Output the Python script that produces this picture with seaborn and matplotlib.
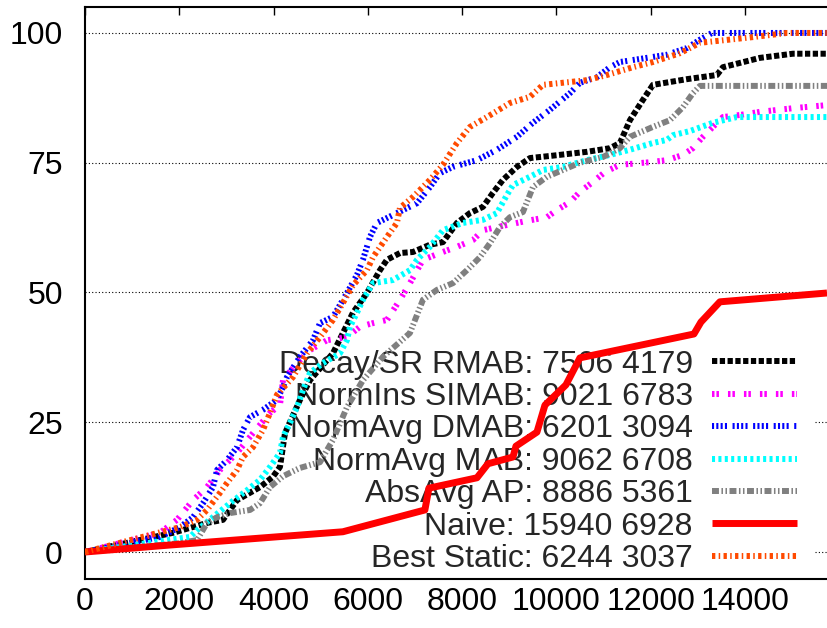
import matplotlib
matplotlib.use("Agg")
import matplotlib.pyplot as plt
from matplotlib.patches import Rectangle
import pandas as pd
import seaborn as sns

# Cumulative percentage of solved instances vs. number of evaluations
decay_x = [0, 1866, 2588, 2927, 3224, 3712, 3987, 4136, 4242, 4560, 4772, 5260, 5684, 5981,
           6257, 6405, 6681, 6957, 7317, 7593, 7890, 8166, 8442, 8654, 8866, 9163, 9439, 9863,
           10648, 11135, 11347, 11560, 11835, 12047, 12769, 13405, 13532, 14317, 15017, 15740]
decay_y = [0, 3.7, 5.6, 6.2, 10.0, 12.5, 14.5, 16.4, 22.9, 29.3, 33.1, 38.3, 46.1, 49.9,
           54.3, 56.3, 57.6, 57.8, 59.2, 59.7, 63.4, 65.3, 66.5, 69.2, 71.7, 74.2, 75.9, 76.3,
           77.1, 77.8, 78.8, 83.2, 87.1, 90.0, 91.1, 91.9, 93.4, 95.2, 96.0, 96.0]

simab_x = [0, 1591, 1951, 2291, 2588, 2863, 3224, 3563, 3924, 4136, 4200, 4497, 4772, 5133,
           5557, 5833, 6109, 6405, 6681, 6893, 7169, 7530, 7890, 8229, 8442, 8738, 9375, 9799,
           10011, 10287, 10499, 10775, 11029, 11347, 11984, 12344, 12684, 12896, 13108, 13532,
           13893, 14317, 15017, 15740]
simab_y = [0, 3.7, 6.2, 10.0, 12.5, 15.8, 19.1, 22.9, 26.8, 28.3, 33.1, 36.4, 38.9, 40.8,
           41.4, 43.4, 44.1, 44.7, 48.6, 51.8, 56.3, 57.6, 58.8, 60.1, 62.0, 62.6, 63.8, 64.5,
           65.9, 67.4, 69.4, 71.3, 73.2, 74.6, 75.1, 75.5, 76.5, 77.8, 80.0, 83.8,
           84.2, 84.8, 85.5, 86.1]

dmab_x = [0, 1591, 2015, 2291, 2503, 2715, 2800, 3012, 3224, 3351, 3500, 3775, 4072, 4200,
          4284, 4560, 4836, 4984, 5260, 5557, 5769, 5896, 6045, 6193, 6617, 7042, 7317, 7530,
          7805, 8314, 8738, 9163, 9502, 9863, 10287, 10499, 10860, 11135, 11347, 12344, 12769,
          13044, 13299, 15740]
dmab_y = [0, 2.9, 4.8, 6.7, 9.4, 12.5, 15.8, 17.7, 20.2, 23.5, 26.0, 27.4, 29.3, 31.8,
          33.7, 37.6, 40.8, 44.1, 45.3, 49.9, 53.4, 56.3, 60.7, 63.4, 65.3, 67.2, 70.3, 73.0,
          74.2, 75.5, 77.5, 80.0, 82.7, 85.2, 88.4, 90.4, 91.5, 93.4, 94.4, 95.8, 97.1,
          98.7, 100, 100]

mab_x = [0, 2227, 2376, 3075, 3436, 3712, 3924, 4136, 4200, 4348, 4497, 4624, 4772, 5048,
         5409, 5557, 5621, 5769, 5896, 6109, 6533, 6893, 7042, 7317, 7593, 8017, 8442, 8738,
         8951, 9078, 9439, 9714, 10139, 10648, 11135, 11560, 12047, 12344, 12472, 12833,
         13320, 13829, 15740]
mab_y = [0, 2.9, 4.2, 9.4, 11.9, 13.9, 16.4, 19.1, 22.2, 24.9, 27.9, 31.2, 34.5, 36.4,
         38.3, 40.8, 43.4, 46.1, 48.6, 51.8, 52.4, 54.3, 56.3, 58.8, 62.0, 63.4, 64.0, 65.3,
         68.8, 70.7, 72.3, 73.6, 74.2, 75.5, 76.5, 77.5, 78.8, 79.4, 80.3, 81.1,
         82.7, 83.8, 83.8]

ap_x = [0, 2015, 2376, 2588, 2800, 3075, 3500, 3712, 3924, 4200, 4560, 4984, 5260, 5557,
        5896, 6320, 6893, 7169, 7466, 7805, 8102, 8378, 8590, 8802, 9014, 9290, 9502, 9799,
        10499, 10987, 11347, 11560, 12047, 12408, 12684, 12896, 13044, 15740]
ap_y = [0, 1.7, 2.3, 5.6, 6.7, 7.5, 8.1, 9.4, 12.5, 14.6, 16.2, 17.3, 21.6, 27.9,
        33.1, 37.6, 42.2, 48.6, 50.5, 51.8, 54.3, 56.8, 59.5, 62.6, 64.5, 65.5, 70.3, 72.3,
        75.0, 76.1, 77.8, 80.0, 81.9, 83.2, 85.7, 88.4, 89.8, 89.8]

naive_x = [0, 1740, 5470, 7210, 7296, 8315, 8548, 9078, 9142, 9587, 9757, 10202, 10499,
           12917, 13066, 13468, 15740]
naive_y = [0, 1.3, 3.9, 8.1, 12.3, 14.3, 17.0, 18.3, 20.4, 23.1, 28.3, 32.2, 37.4,
           42.0, 44.3, 48.2, 49.9]

static_x = [0, 2015, 2376, 2588, 2863, 3012, 3224, 3351, 3563, 3775, 3924, 4072, 4412, 4709,
            4984, 5260, 5472, 5684, 5981, 6109, 6405, 6617, 6681, 6957, 7317, 7593, 7890,
            8166, 8527, 9014, 9439, 9714, 10648, 11071, 11623, 12047, 12620, 13044, 14168,
            14890, 15740]
static_y = [0, 4.8, 6.2, 8.1, 11.4, 13.3, 15.8, 18.3, 20.2, 23.5, 26.8, 30.3, 33.7, 38.3,
            41.4, 44.7, 48.0, 51.4, 54.3, 56.8, 60.7, 63.4, 66.3, 68.4, 71.7, 74.6, 78.8,
            81.9, 83.8, 86.5, 87.7, 90.0, 90.9, 91.9, 93.4, 94.4, 96.1, 98.1, 99.2,
            100, 100]

labels = ["Decay/SR RMAB: 7506 4179", "NormIns SIMAB: 9021 6783", "NormAvg DMAB: 6201 3094",
          "NormAvg MAB: 9062 6708", "AbsAvg AP: 8886 5361", "Naive: 15940 6928",
          "Best Static: 6244 3037"]
series_x = [decay_x, simab_x, dmab_x, mab_x, ap_x, naive_x, static_x]
series_y = [decay_y, simab_y, dmab_y, mab_y, ap_y, naive_y, static_y]
x_ticks = [0, 2000, 4000, 6000, 8000, 10000, 12000, 14000]
y_ticks = [0, 25, 50, 75, 100]

# line styles (dash patterns in points)
colors = ["#000000", "#ff00ff", "#0000ff", "#00ffff", "#808080", "#ff0000", "#ff4a00"]
widths = [4.3, 4.3, 4.3, 4.3, 4.3, 5.0, 4.3]
dashes = [(3.8, 1.8),
          (1.8, 1.4, 1.8, 6.5),
          (1.5, 1.6, 1.5, 1.6, 1.5, 1.6, 1.5, 4.0),
          (2.2, 2.4),
          (5.0, 1.8, 1.1, 1.8, 1.1, 1.8),
          None,
          (2.4, 2.4, 1.1, 2.4)]

frames = []
for lab, xs, ys in zip(labels, series_x, series_y):
    frames.append(pd.DataFrame({"evals": xs, "pct": ys, "method": lab}))
df = pd.concat(frames, ignore_index=True)

sns.set_style("white")
plt.rcParams["font.family"] = ["Liberation Sans", "DejaVu Sans"]
plt.rcParams["lines.scale_dashes"] = False

W, H = 827, 628
fig = plt.figure(figsize=(W / 100, H / 100), dpi=100)
ax = fig.add_axes([85 / W, 1 - 579 / H, (W - 85) / W, (579 - 7) / H])

for lab, col, lw, dsh in zip(labels, colors, widths, dashes):
    sub = df[df["method"] == lab]
    sns.lineplot(data=sub, x="evals", y="pct", color=col, linewidth=lw, label=lab,
                 sort=False, estimator=None, ax=ax, zorder=3)
    line = ax.lines[-1]
    line.set_solid_capstyle("butt")
    line.set_dash_capstyle("butt")
    if dsh is not None:
        line.set_dashes(dsh)

ax.set_xlim(0, 15740)
ax.set_ylim(-5.2, 105.0)
ax.set_xticks(x_ticks)
ax.set_yticks(y_ticks)
ax.set_xlabel("")
ax.set_ylabel("")

ax.spines["right"].set_visible(False)
for s in ("left", "bottom", "top"):
    ax.spines[s].set_linewidth(1.5)
    ax.spines[s].set_color("black")

ax.tick_params(axis="both", direction="in", length=6, width=1.0, colors="black",
               labelsize=23, top=True, right=False)
ax.tick_params(axis="y", pad=16)
ax.tick_params(axis="x", pad=6)

ax.set_axisbelow(True)
ax.yaxis.grid(True, color="black", linewidth=0.8, linestyle=(0, (0.8, 1.6)))
ax.xaxis.grid(False)

# opaque key area hides the grid behind it
ax.add_patch(Rectangle((232 / W, 1 - 578 / H), (814 - 232) / W, (578 - 336) / H,
                       transform=fig.transFigure, facecolor="white", edgecolor="none",
                       zorder=1))

handles = ax.lines[:len(labels)]
leg = ax.legend(handles, labels, loc="lower right", bbox_to_anchor=(797 / W, 1 - 574 / H),
                bbox_transform=fig.transFigure, frameon=False, fontsize=23,
                markerfirst=False, handlelength=2.66, handletextpad=0.6,
                labelspacing=0.075, borderpad=0, borderaxespad=0)
leg.set_zorder(2)

fig.savefig("out.png", dpi=100, facecolor="white")
